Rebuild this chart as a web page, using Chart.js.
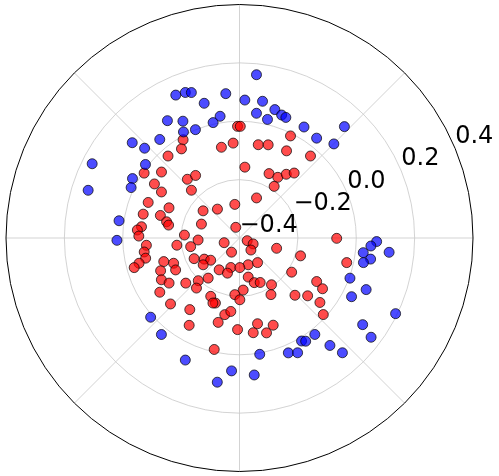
<!DOCTYPE html>
<html>
<head>
<meta charset="utf-8">
<script src="https://cdn.jsdelivr.net/npm/chart.js@4/dist/chart.umd.min.js"></script>
<style>
  body { margin: 0; background: #fff; }
  #wrap { width: 499px; height: 476px; position: relative; }
</style>
</head>
<body>
<div id="wrap"><canvas id="polarChart"></canvas></div>
<script>
// radial axis
const rMin = -0.4;
const rMax = 0.4;
const rTicks = [-0.4, -0.2, 0.0, 0.2, 0.4];
const rTickLabels = ['\u22120.4', '\u22120.2', '0.0', '0.2', '0.4'];
const thetaGrid = [0, 45, 90, 135, 180, 225, 270, 315];
const labelAngle = 22.5;

// class 0 (red), angle in degrees, radius
const redTheta = [119.7, 122.9, 130.9, 139.6, 145.6, 131.4, 91.0, 89.6, 93.8, 101.2,
  78.7, 73.0, 63.6, 61.8, 49.3, 85.7, 65.5, 57.9, 53.9, 50.1,
  124.9, 147.4, 149.3, 158.6, 166.0, 164.0, 156.7, 167.4, 169.6, 173.4,
  175.5, 178.9, 176.9, 186.6, 184.5, 188.4, 192.2, 194.2, 195.8, 197.4,
  201.1, 206.7, 202.7, 208.3, 212.8, 214.4, 135.0, 220.2, 67.1, 97.9,
  127.2, 143.1, 159.8, 109.1, 56.3, 182.8, 197.1, 340.7, 336.4, 313.3,
  240.8, 344.4, 343.6, 204.6, 211.1, 217.8, 216.6, 287.9, 306.1, 253.7,
  270.6, 237.6, 251.2, 304.2, 326.6, 282.5, 288.2, 294.8, 226.2, 232.2,
  229.5, 190.1, 274.0, 265.3, 243.9, 298.9, 313.9, 319.5, 359.8, 347.0,
  330.4, 328.4, 223.9, 235.4, 240.2, 249.8, 247.9, 259.2, 263.3, 270.3,
  255.9, 268.8, 281.8, 291.0, 278.2, 285.8, 257.3, 321.1, 317.4];
const redR = [-0.010, -0.034, -0.026, -0.049, -0.004, -0.130, -0.015, -0.015, -0.072, -0.081,
  -0.072, -0.064, -0.007, -0.059, -0.027, -0.155, -0.156, -0.153, -0.128, -0.108,
  -0.137, -0.054, -0.089, -0.064, -0.060, -0.118, -0.137, -0.144, -0.153, -0.062,
  -0.049, -0.055, -0.211, -0.184, -0.080, -0.070, -0.071, -0.045, -0.025, -0.128,
  -0.158, -0.155, -0.107, -0.096, -0.113, -0.069, -0.167, -0.159, -0.250, -0.283,
  -0.275, -0.244, -0.261, -0.361, -0.186, -0.258, -0.345, -0.372, -0.349, -0.343,
  -0.344, -0.268, -0.182, -0.229, -0.259, -0.275, -0.245, -0.303, -0.295, -0.294,
  -0.298, -0.270, -0.272, -0.205, -0.186, -0.262, -0.238, -0.231, -0.196, -0.225,
  -0.173, -0.230, -0.220, -0.204, -0.176, -0.177, -0.126, -0.093, -0.067, -0.023,
  -0.096, -0.066, -0.072, -0.100, -0.053, -0.161, -0.158, -0.131, -0.145, -0.187,
  -0.100, -0.084, -0.098, -0.078, -0.070, -0.060, -0.006, -0.046, -0.010];

// class 1 (blue)
const blueTheta = [113.9, 110.3, 108.2, 121.4, 115.7, 117.7, 138.2, 128.8, 136.4, 153.1,
  141.8, 150.8, 84.1, 95.4, 104.6, 87.8, 80.5, 74.7, 82.3, 76.8,
  71.2, 69.1, 99.0, 102.8, 60.0, 112.0, 46.9, 52.5, 45.1, 162.4,
  154.9, 171.8, 181.1, 358.5, 356.5, 353.2, 354.5, 350.8, 348.7, 339.9,
  337.7, 332.2, 221.9, 231.2, 246.2, 279.8, 292.9, 296.7, 300.9, 302.5,
  266.6, 276.1, 261.3, 334.0, 324.7, 322.8, 307.8, 309.9, 311.7];
const blueR = [0.139, 0.135, 0.128, 0.074, 0.047, 0.013, 0.093, 0.036, 0.049, 0.166,
  0.010, 0.020, 0.166, 0.100, 0.080, 0.076, 0.078, 0.059, 0.034, 0.020,
  0.048, 0.045, 0.025, 0.008, 0.042, 0.003, 0.126, 0.034, 0.058, 0.144,
  0.010, 0.017, 0.020, 0.070, 0.051, 0.027, 0.115, 0.055, 0.033, 0.003,
  0.069, 0.034, 0.009, 0.027, 0.060, 0.007, 0.030, 0.043, 0.014, 0.022,
  0.059, 0.075, 0.103, 0.195, 0.117, 0.166, 0.021, 0.083, 0.130];

const span = rMax - rMin;

function toXY(thetas, rs) {
  return thetas.map((t, i) => {
    const a = t * Math.PI / 180;
    const d = rs[i] - rMin;
    return { x: d * Math.cos(a), y: d * Math.sin(a) };
  });
}

// polar grid drawn on the hidden cartesian scales
const polarGrid = {
  id: 'polarGrid',
  beforeDatasetsDraw(chart) {
    const ctx = chart.ctx;
    const xs = chart.scales.x, ys = chart.scales.y;
    const cx = xs.getPixelForValue(0), cy = ys.getPixelForValue(0);
    const R = xs.getPixelForValue(span) - cx;
    ctx.save();
    ctx.strokeStyle = '#c8c8c8';
    ctx.lineWidth = 0.8;
    thetaGrid.forEach(t => {
      const a = t * Math.PI / 180;
      ctx.beginPath();
      ctx.moveTo(cx, cy);
      ctx.lineTo(cx + R * Math.cos(a), cy - R * Math.sin(a));
      ctx.stroke();
    });
    rTicks.forEach(v => {
      const d = v - rMin;
      if (d <= 0 || d >= span) return;
      const rp = xs.getPixelForValue(d) - cx;
      ctx.beginPath();
      ctx.arc(cx, cy, rp, 0, Math.PI * 2);
      ctx.stroke();
    });
    ctx.strokeStyle = '#000';
    ctx.lineWidth = 1;
    ctx.beginPath();
    ctx.arc(cx, cy, R, 0, Math.PI * 2);
    ctx.stroke();
    ctx.restore();
  },
  afterDatasetsDraw(chart) {
    const ctx = chart.ctx;
    const xs = chart.scales.x, ys = chart.scales.y;
    const a = labelAngle * Math.PI / 180;
    ctx.save();
    ctx.fillStyle = '#000';
    ctx.font = '24px "DejaVu Sans"';
    ctx.textAlign = 'left';
    ctx.textBaseline = 'alphabetic';
    rTicks.forEach((v, i) => {
      const d = v - rMin;
      const px = xs.getPixelForValue(d * Math.cos(a));
      const py = ys.getPixelForValue(d * Math.sin(a));
      ctx.fillText(rTickLabels[i], px, py - 6);
    });
    ctx.restore();
  }
};

const polarChart = new Chart(document.getElementById('polarChart'), {
  type: 'scatter',
  data: {
    datasets: [{
      label: 'blue',
      data: toXY(blueTheta, blueR),
      backgroundColor: 'rgba(0, 0, 255, 0.7)',
      borderColor: 'rgba(0, 0, 0, 0.7)',
      borderWidth: 1,
      pointRadius: 5
    }, {
      label: 'red',
      data: toXY(redTheta, redR),
      backgroundColor: 'rgba(255, 0, 0, 0.7)',
      borderColor: 'rgba(0, 0, 0, 0.7)',
      borderWidth: 1,
      pointRadius: 5
    }]
  },
  options: {
    responsive: true,
    maintainAspectRatio: false,
    animation: false,
    layout: { padding: { left: 3, right: 26, top: 3, bottom: 3 } },
    plugins: { legend: { display: false }, tooltip: { enabled: false } },
    scales: {
      x: { type: 'linear', min: -span, max: span, display: false },
      y: { type: 'linear', min: -span, max: span, display: false }
    }
  },
  plugins: [polarGrid]
});
</script>
</body>
</html>
